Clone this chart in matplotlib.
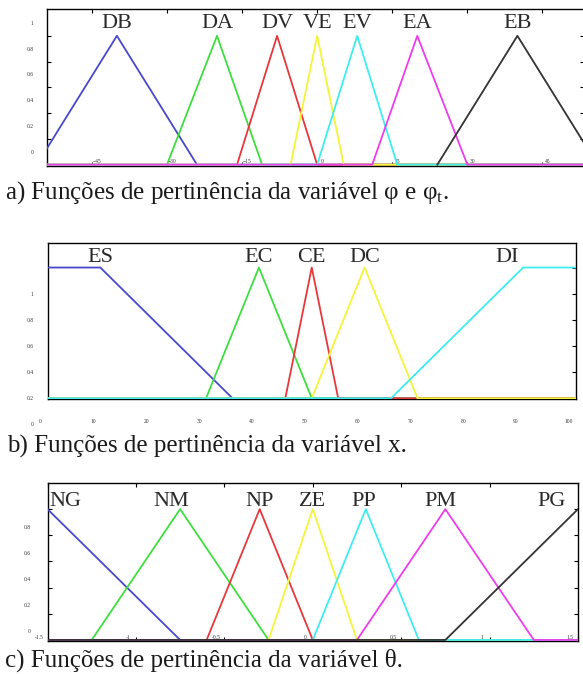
import matplotlib
matplotlib.use('Agg')
import matplotlib.pyplot as plt
import matplotlib.transforms as mtransforms

plt.rcParams['font.family'] = ['Liberation Serif', 'DejaVu Serif']
plt.rcParams['mathtext.fontset'] = 'custom'
plt.rcParams['mathtext.rm'] = 'Liberation Serif'
plt.rcParams['mathtext.it'] = 'Liberation Serif:italic'

W, H, DPI = 583, 674, 100

# a) variavel phi (pontos de quebra de cada funcao de pertinencia)
phi_names = ['DB', 'DA', 'DV', 'VE', 'EV', 'EA', 'EB']
phi_x = [[-56, -40, -24, 60],
         [-60, -30, -20, -11, 60],
         [-60, -16, -8, 0, 60],
         [-60, -5.3, 0, 5.3, 60],
         [-60, 0, 8, 16, 60],
         [-60, 11, 20, 30, 60],
         [24, 40, 56]]
phi_y = [[0, 1, 0, 0],
         [0, 0, 1, 0, 0],
         [0, 0, 1, 0, 0],
         [0, 0, 1, 0, 0],
         [0, 0, 1, 0, 0],
         [0, 0, 1, 0, 0],
         [0, 1, 0]]
phi_label_x = [-40, -20, -8, 0, 8, 20, 40]
phi_ticks = [-45, -30, -15, 0, 15, 30, 45]

# b) variavel x
x_names = ['ES', 'EC', 'CE', 'DC', 'DI']
x_x = [[0, 10, 35, 100],
       [0, 30, 40, 50, 100],
       [0, 45, 50, 55, 100],
       [0, 50, 60, 70, 100],
       [0, 65, 90, 100]]
x_y = [[1, 1, 0, 0],
       [0, 0, 1, 0, 0],
       [0, 0, 1, 0, 0],
       [0, 0, 1, 0, 0],
       [0, 0, 1, 1]]
x_label_x = [10, 40, 50, 60, 87]
x_ticks = [0, 10, 20, 30, 40, 50, 60, 70, 80, 90, 100]

# c) variavel theta
th_names = ['NG', 'NM', 'NP', 'ZE', 'PP', 'PM', 'PG']
th_x = [[-1.5, -0.75, 1.5],
        [-1.5, -1.25, -0.75, -0.25, 1.5],
        [-1.5, -0.6, -0.3, 0, 1.5],
        [-1.5, -0.25, 0, 0.25, 1.5],
        [-1.5, 0, 0.3, 0.6, 1.5],
        [-1.5, 0.25, 0.75, 1.25, 1.5],
        [-1.5, 0.75, 1.5]]
th_y = [[1, 0, 0],
        [0, 0, 1, 0, 0],
        [0, 0, 1, 0, 0],
        [0, 0, 1, 0, 0],
        [0, 0, 1, 0, 0],
        [0, 0, 1, 0, 0],
        [0, 0, 1]]
th_label_x = [-1.4, -0.8, -0.3, 0, 0.29, 0.72, 1.35]
th_ticks = [-1.5, -1, -0.5, 0, 0.5, 1, 1.5]

y_ticks = [0, 0.2, 0.4, 0.6, 0.8, 1]
y_labels = ['0', '0.2', '0.4', '0.6', '0.8', '1']

cores7 = ['#4848cc', '#3ede3e', '#e6383c', '#f4f43a', '#3eeeee', '#ee3cee', '#333333']
cores5 = ['#4848cc', '#3ede3e', '#e6383c', '#f4f43a', '#3eeeee']

legendas = ['a) Funções de pertinência da variável φ e φ$_{\\mathrm{t}}$.',
            'b) Funções de pertinência da variável x.',
            'c) Funções de pertinência da variável θ.']

fig = plt.figure(figsize=(W / DPI, H / DPI), dpi=DPI)


def box(l, r, t, b):
    # caixa em pixels (esquerda, direita, topo, base) -> fracao da figura
    return [l / W, 1 - b / H, (r - l) / W, (b - t) / H]


def shift(labels, dx, dy):
    off = mtransforms.ScaledTranslation(dx / DPI, dy / DPI, fig.dpi_scale_trans)
    for lab in labels:
        lab.set_transform(lab.get_transform() + off)


def painel(ax, xs, ys, cores, nomes, lab_x, lab_y, xlim, ytop, xticks):
    for x, y, c in zip(xs, ys, cores):
        ax.plot(x, y, color=c, lw=1.3, zorder=3)
    for n, px in zip(nomes, lab_x):
        ax.text(px, lab_y, n, ha='center', va='baseline', fontsize=16, color='#2a2a2a', zorder=4)
    ax.set_xlim(*xlim)
    ax.set_ylim(-0.008, ytop)
    ax.set_xticks(xticks)
    ax.set_yticks(y_ticks)
    ax.set_yticklabels(y_labels)
    for s in ax.spines.values():
        s.set_linewidth(1.0)


# painel a
ax1 = fig.add_axes(box(47.3, 584, 9.3, 165.7))
painel(ax1, phi_x, phi_y, cores7, phi_names, phi_label_x, 1.06, (-53.9, 53.3), 1.206, phi_ticks)
ax1.tick_params(direction='in', length=3, width=0.8, labelsize=4, labelcolor='#333333',
                top=True, right=True)
ax1.tick_params(axis='x', pad=-4.5)
ax1.tick_params(axis='y', pad=10)

# painel b
ax2 = fig.add_axes(box(47.5, 576, 242.7, 399.3))
painel(ax2, x_x, x_y, cores5, x_names, x_label_x, 1.046, (0, 100), 1.19, x_ticks)
ax2.tick_params(direction='in', length=3, width=0.8, labelsize=4, labelcolor='#333333',
                left=False, right=True, bottom=False)
ax2.tick_params(axis='x', pad=14)
ax2.tick_params(axis='y', pad=10)

# painel c
ax3 = fig.add_axes(box(47.5, 578, 482.7, 641))
painel(ax3, th_x, th_y, cores7, th_names, th_label_x, 1.027, (-1.5, 1.5), 1.202, th_ticks)
ax3.set_yticklabels(y_labels[:5] + [''])
ax3.set_xticklabels(['-1.5', '-1', '-0.5', '0', '0.5', '1', '1.5'])
ax3.tick_params(direction='in', length=3, width=0.8, labelsize=4, labelcolor='#333333',
                top=True, right=True)
ax3.tick_params(axis='x', pad=-4.5)
ax3.tick_params(axis='y', pad=12)

# rotulos deslocados como na figura escaneada
shift(ax1.get_xticklabels(), 5, 0)
shift(ax1.get_yticklabels(), 0, 13)
shift(ax2.get_xticklabels(), -7, 0)
shift(ax2.get_yticklabels(), 0, -26)
shift(ax3.get_xticklabels(), -8, 0)
shift(ax3.get_yticklabels(), 0, 8.5)

# legendas
for texto, yb, xl in zip(legendas, [199, 453, 667], [5, 7, 5]):
    fig.text(xl / W, 1 - yb / H, texto, fontsize=18, color='#1a1a1a', va='baseline', ha='left')

fig.savefig('out.png', dpi=DPI)
